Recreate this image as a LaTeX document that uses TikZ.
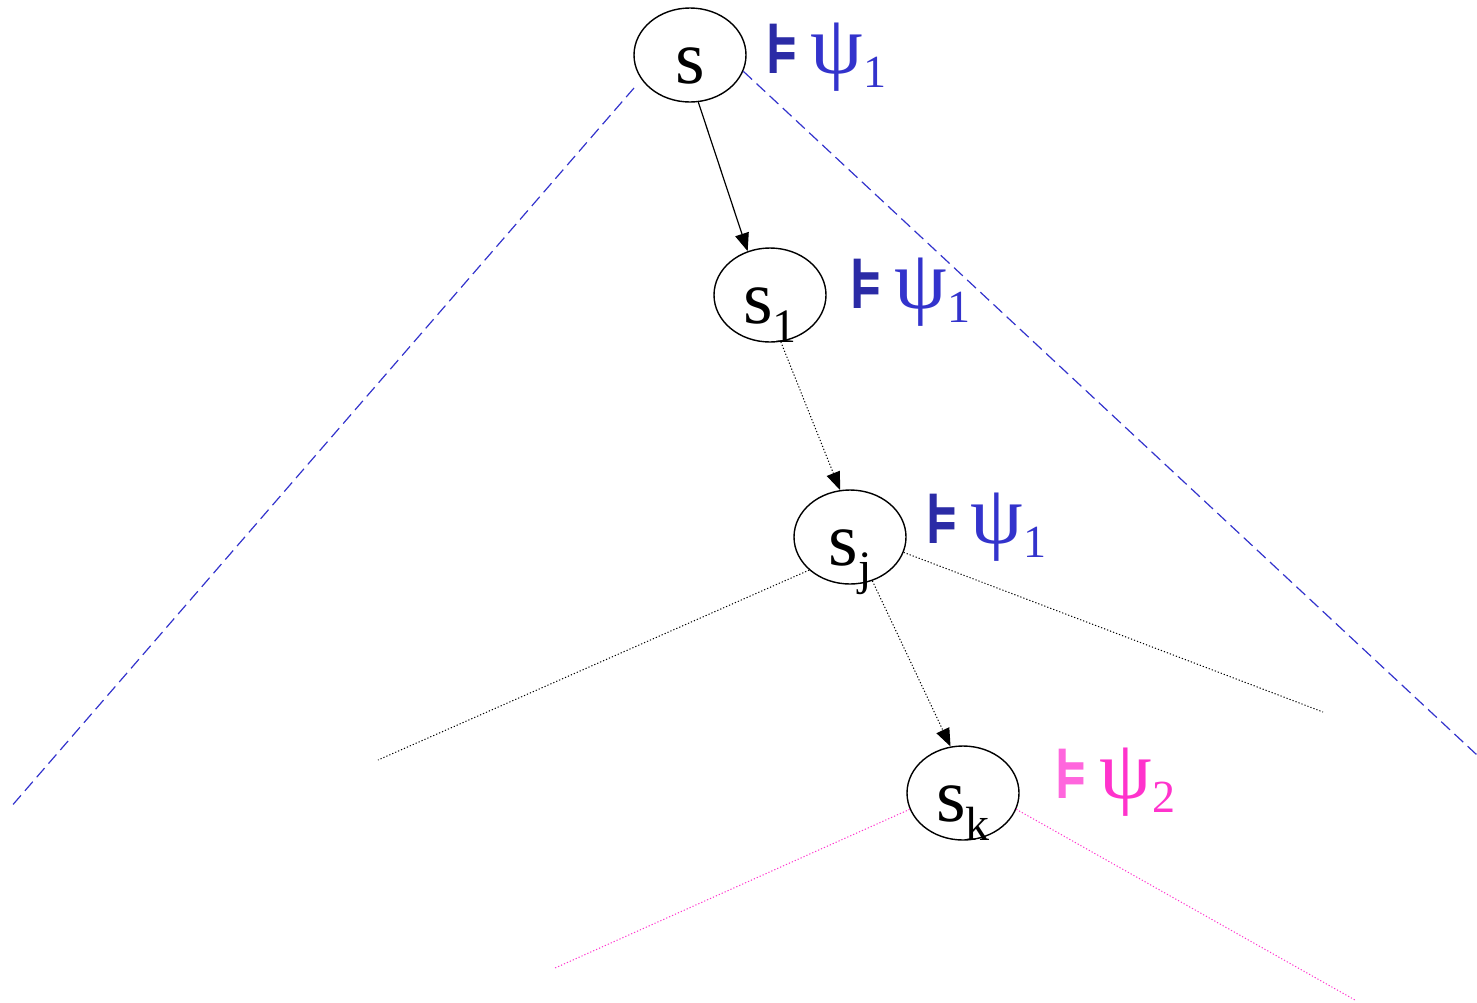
\documentclass[tikz,border=0pt]{standalone}
\usepackage{fontspec}
\setmainfont{Liberation Serif}
\newfontfamily\symfont{DejaVu Sans}
\usetikzlibrary{arrows.meta,shapes.geometric}
\definecolor{lblue}{HTML}{3333CC}
\definecolor{dblue}{HTML}{2B2BA6}
\definecolor{lpink}{HTML}{FF66DD}
\definecolor{dpink}{HTML}{FF33CC}
\newcommand{\lowsub}[1]{\raisebox{-9.5pt}{\fontsize{24}{24}\selectfont #1}}
\newcommand{\psisub}[1]{\raisebox{-7pt}{\fontsize{23}{23}\selectfont #1}}
\newcommand{\mdl}[1]{{\symfont\bfseries\fontsize{35}{35}\selectfont\color{#1}\scalebox{0.95}[1]{⊧}}}
\begin{document}
\begin{tikzpicture}[x=0.5pt,y=-0.5pt,
  state/.style={ellipse,draw,line width=0.7pt,minimum width=56pt,minimum height=47pt,inner sep=0pt,text height=28pt,text depth=0pt,font=\fontsize{38}{38}\selectfont},
  lbl/.style={anchor=base west,inner sep=0pt,font=\fontsize{42}{42}\selectfont},
  bluedash/.style={draw=lblue,line width=0.6pt,dash pattern=on 6pt off 3pt},
  blkdot/.style={draw=black,line width=0.5pt,dash pattern=on 0.6pt off 1pt},
  pinkdot/.style={draw=dpink,line width=0.5pt,dash pattern=on 0.6pt off 1pt},
  arr/.style={-{Triangle[length=9pt,width=7pt]},line width=0.6pt}]
\path[use as bounding box] (0,0) rectangle (1477,1002);
% nodes
\node[state] (s)  at (690,55)  {s};
\node[state] (s1) at (770,295) {s\lowsub{1}};
\node[state] (sj) at (850,537) {s\lowsub{j}};
\node[state] (sk) at (963,793) {s\lowsub{k}};
% labels
\node[lbl,text=lblue] (l0) at (764,73)  {\mdl{dblue}\hspace{5pt}ψ\psisub{1}};
\node[lbl,text=lblue] (l1) at (848,308) {\mdl{dblue}\hspace{5pt}ψ\psisub{1}};
\node[lbl,text=lblue] (lj) at (924,543) {\mdl{dblue}\hspace{5pt}ψ\psisub{1}};
\node[lbl,text=dpink] (lk) at (1053,798) {\mdl{lpink}\hspace{5pt}ψ\psisub{2}};
% free ends
\coordinate (blS) at (634,88);
\coordinate (blE) at (10,808);
\coordinate (brE) at (1477,755);
\coordinate (jl) at (378,760);
\coordinate (jr) at (1323,712);
\coordinate (kl) at (555,968);
\coordinate (kr) at (1355,1000);
% connectors
\draw[bluedash] (blS) -- (blE);
\draw[bluedash] (s.343) -- (brE);
\draw[arr] (s.280) -- (s1.117);
\draw[arr,blkdot] (s1.283) -- (sj.102);
\draw[arr,blkdot] (sj.297) -- (sk.105);
\draw[blkdot] (sj.219) -- (jl);
\draw[blkdot] (sj.344) -- (jr);
\draw[pinkdot] (sk.197) -- (kl);
\draw[pinkdot] (sk.343) -- (kr);
\end{tikzpicture}
\end{document}
